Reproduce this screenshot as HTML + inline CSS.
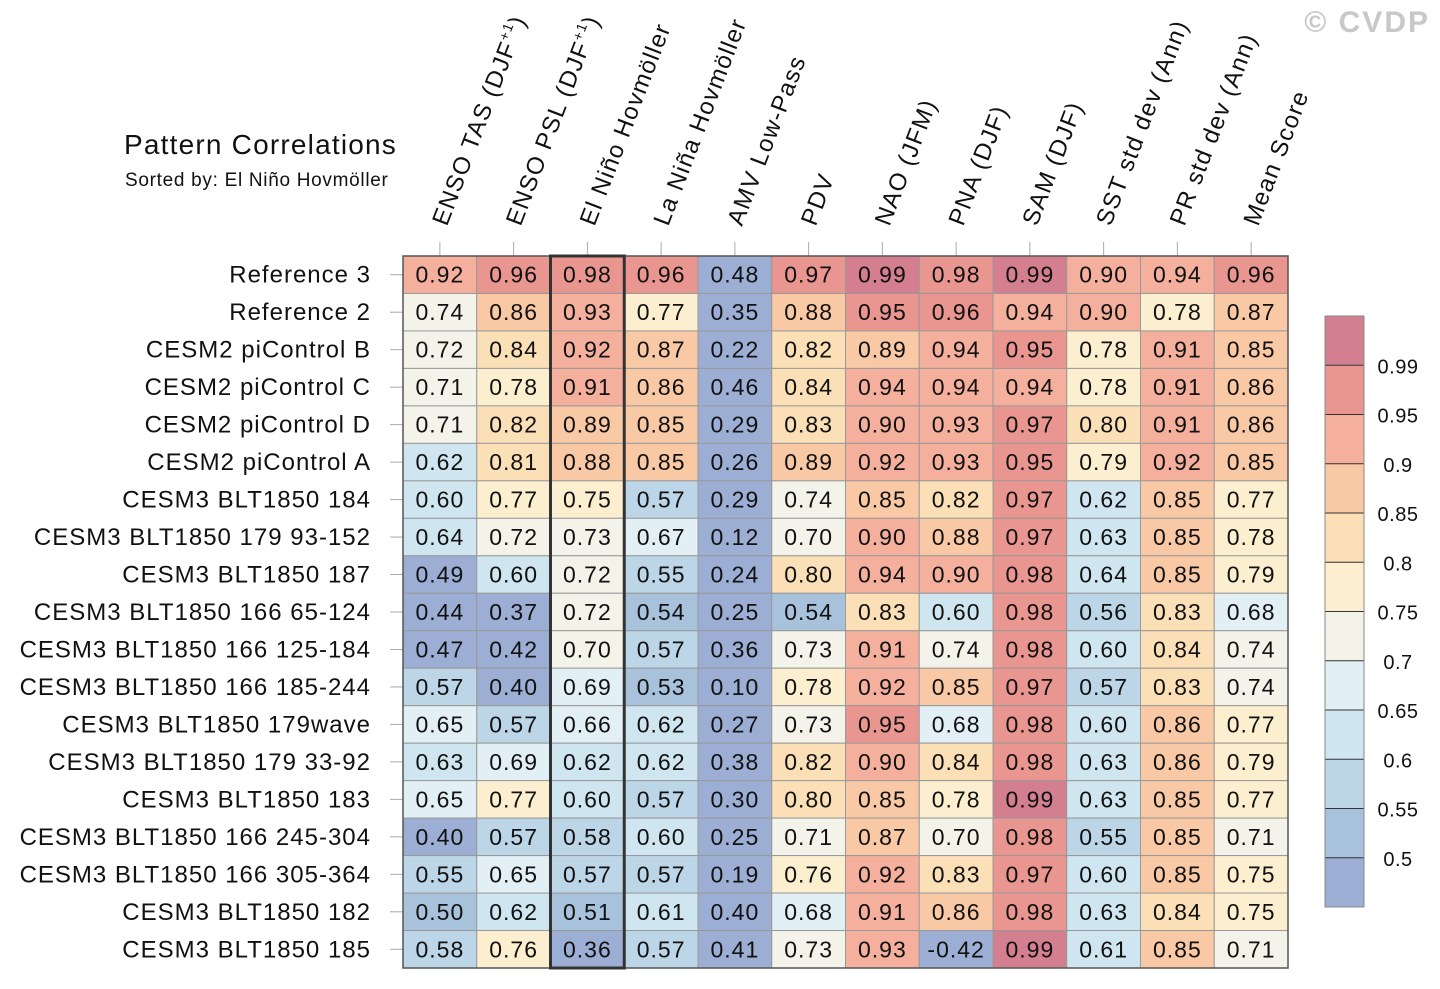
<!DOCTYPE html>
<html><head><meta charset="utf-8"><style>
html,body{margin:0;padding:0;background:#fff;}
svg{display:block;font-family:"Liberation Sans",Arial,sans-serif;}
</style></head><body>
<svg id="chart" width="1440" height="989" viewBox="0 0 1440 989" xmlns="http://www.w3.org/2000/svg">
<text x="124" y="154" font-size="28" letter-spacing="1.2" fill="#111">Pattern Correlations</text>
<text x="125" y="186" font-size="19" letter-spacing="0.7" fill="#111">Sorted by: El Niño Hovmöller</text>
<text x="1430" y="32" font-size="30" font-weight="bold" letter-spacing="2" fill="#c8c8c8" text-anchor="end">© CVDP</text>
<g id="grid"></g>
<g id="cbar"></g>
</svg>
<script>
const columns = ["ENSO TAS (DJF", "ENSO PSL (DJF", "El Niño Hovmöller", "La Niña Hovmöller", "AMV Low-Pass", "PDV", "NAO (JFM)", "PNA (DJF)", "SAM (DJF)", "SST std dev (Ann)", "PR std dev (Ann)", "Mean Score"];
const rows = ["Reference 3","Reference 2","CESM2 piControl B","CESM2 piControl C","CESM2 piControl D","CESM2 piControl A","CESM3 BLT1850 184","CESM3 BLT1850 179 93-152","CESM3 BLT1850 187","CESM3 BLT1850 166 65-124","CESM3 BLT1850 166 125-184","CESM3 BLT1850 166 185-244","CESM3 BLT1850 179wave","CESM3 BLT1850 179 33-92","CESM3 BLT1850 183","CESM3 BLT1850 166 245-304","CESM3 BLT1850 166 305-364","CESM3 BLT1850 182","CESM3 BLT1850 185"];
const values = [
[0.92,0.96,0.98,0.96,0.48,0.97,0.99,0.98,0.99,0.90,0.94,0.96],
[0.74,0.86,0.93,0.77,0.35,0.88,0.95,0.96,0.94,0.90,0.78,0.87],
[0.72,0.84,0.92,0.87,0.22,0.82,0.89,0.94,0.95,0.78,0.91,0.85],
[0.71,0.78,0.91,0.86,0.46,0.84,0.94,0.94,0.94,0.78,0.91,0.86],
[0.71,0.82,0.89,0.85,0.29,0.83,0.90,0.93,0.97,0.80,0.91,0.86],
[0.62,0.81,0.88,0.85,0.26,0.89,0.92,0.93,0.95,0.79,0.92,0.85],
[0.60,0.77,0.75,0.57,0.29,0.74,0.85,0.82,0.97,0.62,0.85,0.77],
[0.64,0.72,0.73,0.67,0.12,0.70,0.90,0.88,0.97,0.63,0.85,0.78],
[0.49,0.60,0.72,0.55,0.24,0.80,0.94,0.90,0.98,0.64,0.85,0.79],
[0.44,0.37,0.72,0.54,0.25,0.54,0.83,0.60,0.98,0.56,0.83,0.68],
[0.47,0.42,0.70,0.57,0.36,0.73,0.91,0.74,0.98,0.60,0.84,0.74],
[0.57,0.40,0.69,0.53,0.10,0.78,0.92,0.85,0.97,0.57,0.83,0.74],
[0.65,0.57,0.66,0.62,0.27,0.73,0.95,0.68,0.98,0.60,0.86,0.77],
[0.63,0.69,0.62,0.62,0.38,0.82,0.90,0.84,0.98,0.63,0.86,0.79],
[0.65,0.77,0.60,0.57,0.30,0.80,0.85,0.78,0.99,0.63,0.85,0.77],
[0.40,0.57,0.58,0.60,0.25,0.71,0.87,0.70,0.98,0.55,0.85,0.71],
[0.55,0.65,0.57,0.57,0.19,0.76,0.92,0.83,0.97,0.60,0.85,0.75],
[0.50,0.62,0.51,0.61,0.40,0.68,0.91,0.86,0.98,0.63,0.84,0.75],
[0.58,0.76,0.36,0.57,0.41,0.73,0.93,-0.42,0.99,0.61,0.85,0.71]];
const levels = [0.5,0.55,0.6,0.65,0.7,0.75,0.8,0.85,0.9,0.95,0.99];
const levelLabels = ["0.5","0.55","0.6","0.65","0.7","0.75","0.8","0.85","0.9","0.95","0.99"];
const colors = ["#9caed4","#a9c2dc","#bcd6e8","#cfe5ef","#e2f0f5","#f3f3e9","#fcefcf","#fbdfb6","#f9c9a6","#f4b09d","#e99590","#d47f8f"];
const highlightCol = 2;

const NS="http://www.w3.org/2000/svg";
const gx0=403, gx1=1288, gy0=256, gy1=968;
const cw=(gx1-gx0)/columns.length, rh=(gy1-gy0)/rows.length;
const xPos=i=>gx0+i*cw, yPos=j=>gy0+j*rh;
function colorFor(v){const r=Math.round(v*100)/100;let k=0;for(let i=0;i<levels.length;i++){if(r>=levels[i]-1e-9)k=i+1;}return colors[k];}
function mk(t,a,p){const e=document.createElementNS(NS,t);for(const k in a)e.setAttribute(k,a[k]);p.appendChild(e);return e;}
const g=document.getElementById('grid');
rows.forEach((rn,j)=>{
  columns.forEach((cn,i)=>{
    const v=values[j][i];
    const r=mk('rect',{x:xPos(i),y:yPos(j),width:cw,height:rh,fill:colorFor(v),stroke:'#999','stroke-width':1},g);
    
    
    const t=mk('text',{x:xPos(i)+cw/2,y:yPos(j)+rh/2+8,'font-size':23,'letter-spacing':1,'text-anchor':'middle',fill:'#111'},g);
    t.textContent=v.toFixed(2);
    
    
  });
  const rl=mk('text',{x:371,y:yPos(j)+rh/2+8,'font-size':24,'letter-spacing':1,'text-anchor':'end',fill:'#111'},g);
  rl.textContent=rn;
  
  
  mk('line',{x1:390,x2:gx0,y1:yPos(j)+rh/2,y2:yPos(j)+rh/2,stroke:'#aaa','stroke-width':1},g);
});
columns.forEach((cn,i)=>{
  const cx=xPos(i)+cw/2;
  mk('line',{x1:cx,x2:cx,y1:242,y2:gy0,stroke:'#aaa','stroke-width':1},g);
  const t=mk('text',{x:0,y:0,'font-size':24,'letter-spacing':1.3,fill:'#111',transform:`translate(${cx+7},227) rotate(-69)`},g);
  t.textContent=cn;
  if(i<2){const s=mk('tspan',{'font-size':14,dy:-10},t);s.textContent='+1';const c=mk('tspan',{dy:10,'font-size':24},t);c.textContent=')';}
  
  
});
mk('rect',{x:gx0,y:gy0,width:gx1-gx0,height:gy1-gy0,fill:'none',stroke:'#555','stroke-width':1.5},g);
const hl=mk('rect',{x:xPos(highlightCol),y:gy0,width:cw,height:gy1-gy0,fill:'none',stroke:'#333','stroke-width':3},g);


const cb=document.getElementById('cbar');
const bx=1325,by0=316,by1=907,bw=39,bh=(by1-by0)/colors.length;
colors.forEach((c,k)=>{
  const y=by1-(k+1)*bh;
  const r=mk('rect',{x:bx,y:y,width:bw,height:bh,fill:c},cb);
  
  
});
levels.forEach((l,k)=>{
  const y=by1-(k+1)*bh;
  mk('line',{x1:bx,x2:bx+bw,y1:y,y2:y,stroke:'#333','stroke-width':1},cb);
  const t=mk('text',{x:1398,y:y+8,'font-size':20,'letter-spacing':0.5,'text-anchor':'middle',fill:'#111'},cb);
  t.textContent=levelLabels[k];
  
  
});
mk('rect',{x:bx,y:by0,width:bw,height:by1-by0,fill:'none',stroke:'#888','stroke-width':1},cb);
</script>
</body></html>
